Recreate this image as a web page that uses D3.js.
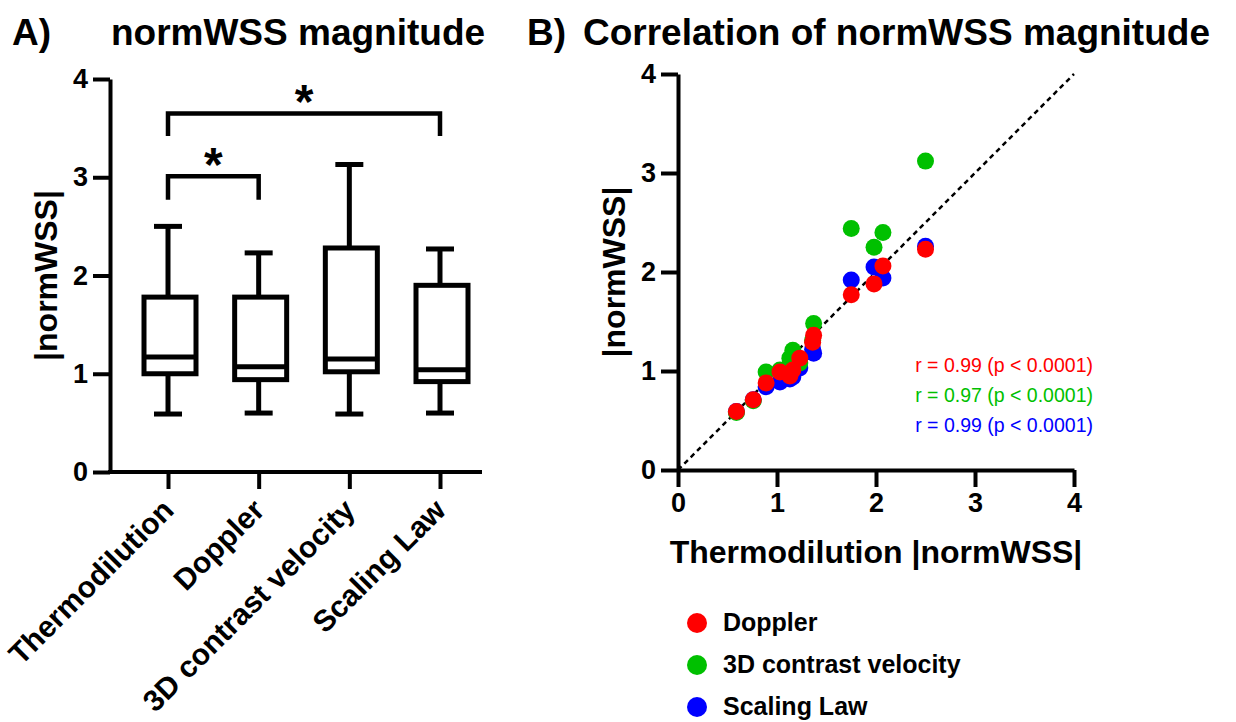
<!DOCTYPE html>
<html><head><meta charset="utf-8">
<script src="https://cdn.jsdelivr.net/npm/d3@7"></script>
<style>
html,body{margin:0;background:#fff;}
svg{display:block;font-family:"Liberation Sans",Arial,sans-serif;}
.axis path,.axis line{stroke:#000;stroke-width:4;}
.axis text{font-size:27px;font-weight:bold;fill:#000;font-family:"Liberation Sans",Arial,sans-serif;}
.axis text.cat{font-size:30px;}
</style></head><body>
<svg id="chart" width="1236" height="722"></svg>
<script>
// panel A: box stats per method
const methods = ['Thermodilution', 'Doppler', '3D contrast velocity', 'Scaling Law'];
const boxMin = [0.59, 0.60, 0.59, 0.60];
const boxQ1  = [1.00, 0.94, 1.02, 0.92];
const boxMed = [1.17, 1.07, 1.15, 1.04];
const boxQ3  = [1.78, 1.78, 2.28, 1.90];
const boxMax = [2.50, 2.23, 3.13, 2.27];
// significance brackets: [from, to, bar level, leg end]
const brackets = [[0, 1, 3.01, 2.77], [0, 3, 3.65, 3.42]];
const yTicks = [0, 1, 2, 3, 4];

// panel B: thermodilution vs each method
const thermoX  = [0.59, 0.76, 0.89, 1.03, 1.13, 1.16, 1.23, 1.36, 1.37, 1.75, 1.98, 2.07, 2.50];
const doppler  = [0.59, 0.71, 0.88, 0.99, 0.95, 1.01, 1.13, 1.29, 1.36, 1.77, 1.88, 2.06, 2.23];
const contrast = [0.58, 0.70, 0.99, 1.01, 1.13, 1.21, 1.08, 1.31, 1.48, 2.44, 2.25, 2.40, 3.12];
const scaling  = [0.59, 0.71, 0.84, 0.89, 0.92, 0.94, 1.03, 1.22, 1.18, 1.92, 2.05, 1.94, 2.26];
const seriesNames = ['Doppler', '3D contrast velocity', 'Scaling Law'];
const seriesColors = ['#ff0000', '#00c000', '#0000ff'];
const rLabels = ['r = 0.99 (p < 0.0001)', 'r = 0.97 (p < 0.0001)', 'r = 0.99 (p < 0.0001)'];

const svg = d3.select('#chart');
const bold = s => s.attr('font-weight', 'bold').attr('fill', '#000');

// ---------- titles
bold(svg.append('text').attr('x', 12).attr('y', 45).attr('font-size', 37).text('A)'));
bold(svg.append('text').attr('x', 298).attr('y', 45).attr('font-size', 37).attr('text-anchor', 'middle').text('normWSS magnitude'));
bold(svg.append('text').attr('x', 527).attr('y', 45).attr('font-size', 37).text('B)'));
bold(svg.append('text').attr('x', 583).attr('y', 45).attr('font-size', 37).text('Correlation of normWSS magnitude'));

// ---------- panel A
const yA = d3.scaleLinear().domain([0, 4]).range([472, 79]);
const xA = d3.scalePoint().domain(methods).range([168, 440]);
const gA = svg.append('g');

gA.append('g').attr('class', 'axis').attr('transform', 'translate(110,0)')
  .call(d3.axisLeft(yA).tickValues(yTicks).tickSize(17).tickSizeOuter(0).tickPadding(5).tickFormat(d3.format('d')));
const xAxA = gA.append('g').attr('class', 'axis').attr('transform', `translate(0,${yA(0)})`)
  .call(d3.axisBottom(xA).tickSize(17).tickSizeOuter(0).tickFormat(''));
xAxA.select('.domain').attr('d', `M108,0H482`);
xAxA.selectAll('.tick').append('text').attr('class', 'cat')
  .attr('text-anchor', 'end')
  .attr('transform', 'translate(7,40) rotate(-45)')
  .text(d => d);

bold(gA.append('text').attr('transform', `translate(57,${yA(2)}) rotate(-90)`)
  .attr('text-anchor', 'middle').attr('font-size', 32).text('|normWSS|'));

const boxes = methods.map((m, i) => ({ m, lo: boxMin[i], q1: boxQ1[i], med: boxMed[i], q3: boxQ3[i], hi: boxMax[i] }));
const bw = 26, cap = 14;
const bg = gA.selectAll('g.box').data(boxes).join('g').attr('class', 'box')
  .attr('transform', d => `translate(${xA(d.m)},0)`)
  .attr('stroke', '#000').attr('stroke-width', 5).attr('fill', 'none');
bg.append('line').attr('x1', 0).attr('x2', 0).attr('y1', d => yA(d.lo)).attr('y2', d => yA(d.q1));
bg.append('line').attr('x1', 0).attr('x2', 0).attr('y1', d => yA(d.q3)).attr('y2', d => yA(d.hi));
bg.append('line').attr('x1', -cap).attr('x2', cap).attr('y1', d => yA(d.lo)).attr('y2', d => yA(d.lo));
bg.append('line').attr('x1', -cap).attr('x2', cap).attr('y1', d => yA(d.hi)).attr('y2', d => yA(d.hi));
bg.append('rect').attr('x', -bw + 2).attr('width', 2 * bw).attr('y', d => yA(d.q3)).attr('height', d => yA(d.q1) - yA(d.q3));
bg.append('line').attr('x1', -bw + 2).attr('x2', bw + 2).attr('y1', d => yA(d.med)).attr('y2', d => yA(d.med));

const brk = gA.selectAll('g.brk').data(brackets).join('g').attr('class', 'brk');
brk.append('path').attr('fill', 'none').attr('stroke', '#000').attr('stroke-width', 4.5)
  .attr('d', d => `M${xA(methods[d[0]])},${yA(d[3])}V${yA(d[2])}H${xA(methods[d[1]])}V${yA(d[3])}`);
bold(brk.append('text').attr('text-anchor', 'middle').attr('font-size', 48)
  .attr('x', d => (xA(methods[d[0]]) + xA(methods[d[1]])) / 2).attr('y', d => yA(d[2]) + 5).text('*'));

// ---------- panel B
const xB = d3.scaleLinear().domain([0, 4]).range([678, 1074]);
const yB = d3.scaleLinear().domain([0, 4]).range([470, 74]);
const gB = svg.append('g');

gB.append('g').attr('class', 'axis').attr('transform', `translate(${xB(0)},0)`)
  .call(d3.axisLeft(yB).tickValues(yTicks).tickSize(17).tickSizeOuter(0).tickPadding(5).tickFormat(d3.format('d')));
gB.append('g').attr('class', 'axis').attr('transform', `translate(0,${yB(0)})`)
  .call(d3.axisBottom(xB).tickValues(yTicks).tickSize(17).tickSizeOuter(0).tickPadding(6).tickFormat(d3.format('d')));

gB.append('line').attr('x1', xB(0)).attr('y1', yB(0)).attr('x2', xB(4)).attr('y2', yB(4))
  .attr('stroke', '#000').attr('stroke-width', 2.5).attr('stroke-dasharray', '5,4');

bold(gB.append('text').attr('transform', `translate(625,${yB(2)}) rotate(-90)`)
  .attr('text-anchor', 'middle').attr('font-size', 32).text('|normWSS|'));
bold(gB.append('text').attr('x', xB(2)).attr('y', 563)
  .attr('text-anchor', 'middle').attr('font-size', 32).text('Thermodilution |normWSS|'));

const ys = [doppler, contrast, scaling];
// drawn blue, green, red so that red ends up on top
[2, 1, 0].forEach(s => {
  gB.append('g').selectAll('circle').data(thermoX.map((x, i) => [x, ys[s][i]])).join('circle')
    .attr('cx', d => xB(d[0])).attr('cy', d => yB(d[1])).attr('r', 8.5).attr('fill', seriesColors[s]);
});

gB.selectAll('text.rlab').data(rLabels).join('text').attr('class', 'rlab')
  .attr('x', 1093).attr('y', (d, i) => 372 + i * 30).attr('text-anchor', 'end')
  .attr('font-size', 19.5).attr('fill', (d, i) => seriesColors[i]).text(d => d);

// legend
const lg = gB.selectAll('g.leg').data(seriesNames).join('g').attr('class', 'leg')
  .attr('transform', (d, i) => `translate(697,${623 + i * 42})`);
lg.append('circle').attr('r', 10).attr('fill', (d, i) => seriesColors[i]);
bold(lg.append('text').attr('x', 26).attr('dy', '0.33em').attr('font-size', 25).text(d => d));
</script>
</body></html>
